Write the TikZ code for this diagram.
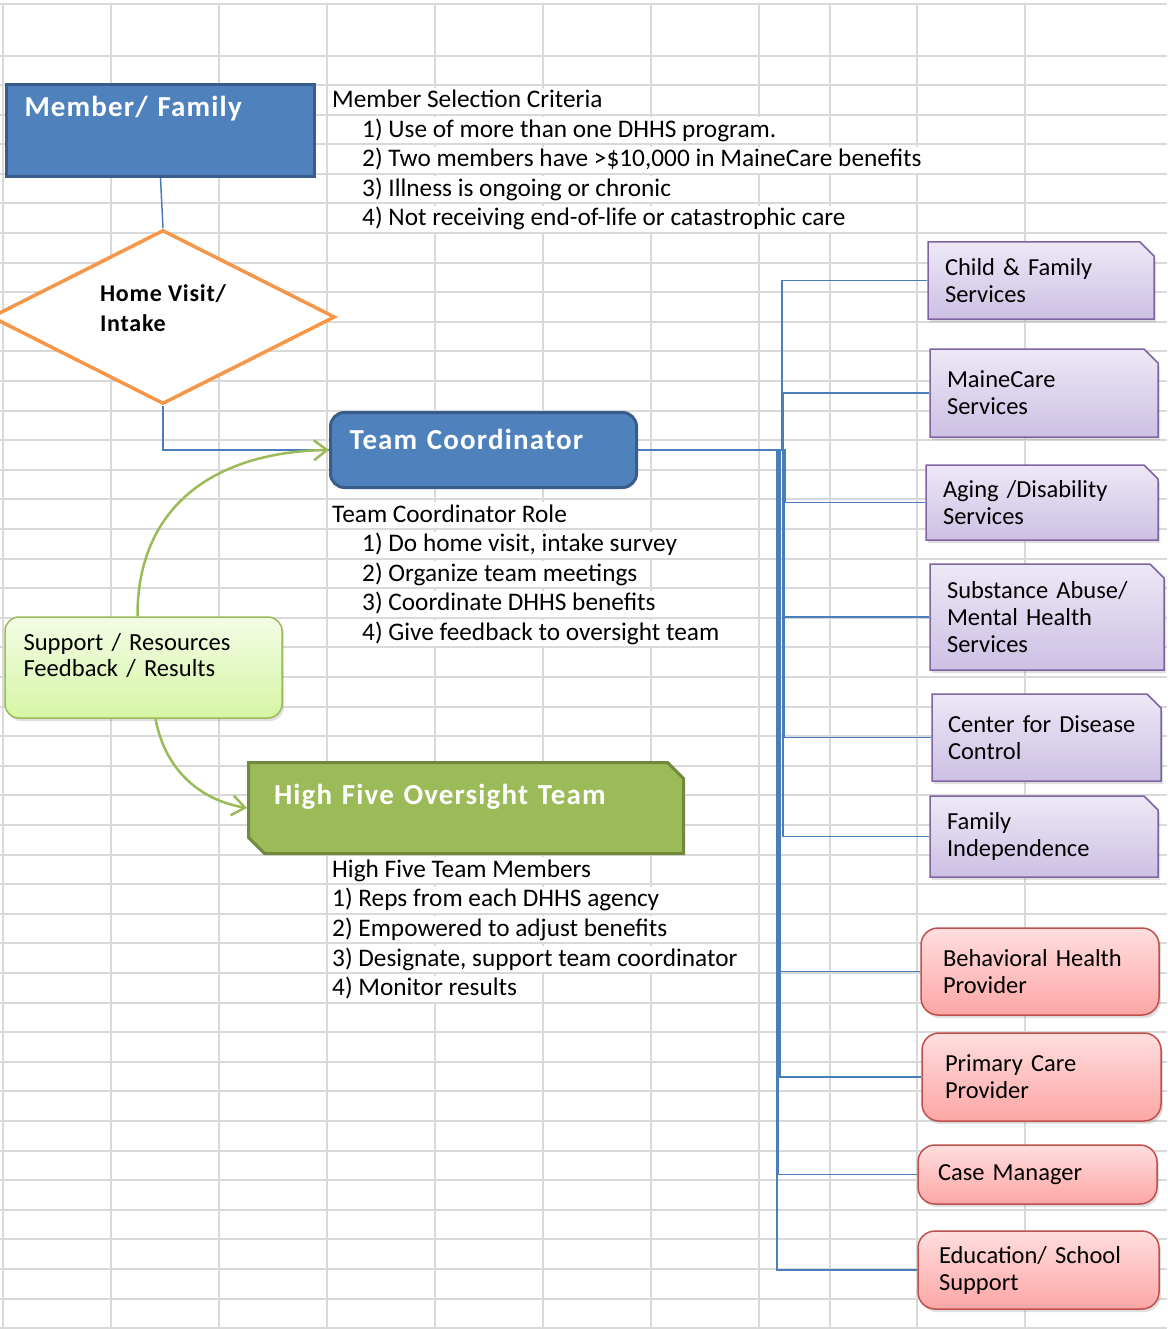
\documentclass[tikz,border=0pt]{standalone}
\usepackage{fontspec}
\setmainfont{Carlito}
\usepackage{tikz}
\usetikzlibrary{shapes,arrows.meta,shadows}
\definecolor{gridgray}{HTML}{D9D9D9}
\definecolor{offblue}{HTML}{4F81BD}
\definecolor{offbluedark}{HTML}{385D8A}
\definecolor{linkblue}{HTML}{4A7EBB}
\definecolor{offorange}{HTML}{F79646}
\definecolor{offgreen}{HTML}{9BBB59}
\definecolor{offgreendark}{HTML}{71893F}
\definecolor{offpurple}{HTML}{8064A2}
\definecolor{purpletop}{RGB}{237,232,246}
\definecolor{purplebot}{RGB}{204,192,228}
\definecolor{offred}{HTML}{C0504D}
\definecolor{redtop}{RGB}{255,222,222}
\definecolor{redbot}{RGB}{252,166,165}
\definecolor{limetop}{RGB}{243,252,230}
\definecolor{limebot}{RGB}{214,246,164}
\newcommand{\cellfont}{\fontsize{25.3}{27}\selectfont}
\newcommand{\tagfont}{\fontsize{24.5}{27}\selectfont}
\newcommand{\headfont}{\fontsize{29}{32}\selectfont\bfseries\addfontfeature{LetterSpace=4}}
\tikzset{
	gridline/.style={draw=gridgray, line width=2pt},
	celltext/.style={fill=white, anchor=base west, inner xsep=2pt, inner ysep=0pt,
		text height=20pt, text depth=6pt, font=\cellfont},
	headbox/.style={line width=3pt, text=white, font=\headfont, align=left, inner sep=0pt},
	agency/.style={chamfered rectangle, chamfered rectangle corners=north east,
		chamfered rectangle sep=7pt, draw=offpurple, line width=1.5pt,
		top color=purpletop, bottom color=purplebot, align=left, inner sep=0pt, font=\tagfont,
		drop shadow={shadow xshift=2pt, shadow yshift=-3pt, opacity=0.25}},
	provider/.style={rectangle, rounded corners=17pt, draw=offred, line width=1.5pt,
		top color=redtop, bottom color=redbot, align=left, inner sep=0pt, font=\tagfont,
		drop shadow={shadow xshift=2pt, shadow yshift=-3pt, opacity=0.25}},
	link/.style={draw=linkblue, line width=1.5pt},
	feedback/.style={draw=offgreen, line width=2.5pt, -{Straight Barb[length=13pt,width=20pt]}},
}

\begin{document}
\begin{tikzpicture}[x=1pt,y=-1pt]
	\tikzstyle{every node}=[font=\cellfont]
	\useasboundingbox (0,0) rectangle (1167,1329);
	\fill[white] (0,0) rectangle (1167,1329);
	
	% sheet grid
	\foreach \gx in {3,111,219,327,435,543,651,759,830,917,1025}
	\draw[gridline] (\gx,4) -- (\gx,1329);
	\draw[gridline] (0,4) -- (1167,4);
	\draw[gridline] (0,56) -- (1167,56);
	\foreach \k in {0,...,42}
	\draw[gridline] (0,{85+29.6*\k}) -- (1167,{85+29.6*\k});
	
	% cell texts
	\node[celltext] (crit) at (330,107.6) {Member Selection Criteria};
	\node[celltext] (crit1) at (360,137.2) {1) Use of more than one DHHS program.};
	\node[celltext] (crit2) at (360,166.8) {2) Two members have >\$10,000 in MaineCare benefits};
	\node[celltext] (crit3) at (360,196.4) {3) Illness is ongoing or chronic};
	\node[celltext] (crit4) at (360,226) {4) Not receiving end-of-life or catastrophic care};
	
	\node[celltext] (role) at (330,522) {Team Coordinator Role};
	\node[celltext] (role1) at (360,551.6) {1) Do home visit, intake survey};
	\node[celltext] (role2) at (360,581.2) {2) Organize team meetings};
	\node[celltext] (role3) at (360,610.8) {3) Coordinate DHHS benefits};
	\node[celltext] (role4) at (360,640.4) {4) Give feedback to oversight team};
	
	\node[celltext] (hft) at (330,877.2) {High Five Team Members};
	\node[celltext] (hft1) at (330,906.8) {1) Reps from each DHHS agency};
	\node[celltext] (hft2) at (330,936.4) {2) Empowered to adjust benefits};
	\node[celltext] (hft3) at (330,966) {3) Designate, support team coordinator};
	\node[celltext] (hft4) at (330,995.6) {4) Monitor results};
	
	% main flow
	\node[headbox, rectangle, draw=offbluedark, fill=offblue, minimum width=308pt, minimum height=92pt,
		text width=272pt, text height=20pt, text depth=47pt] (member) at (160.5,130.5) {Member/ Family};
	\node[diamond, aspect=2, draw=offorange, line width=3.5pt, fill=white, minimum width=344pt, minimum height=174pt,
		inner sep=0pt, align=left, text depth=18pt,
		font=\fontsize{24}{30}\selectfont\bfseries\addfontfeature{LetterSpace=3}] (visit) at (163,317) {Home Visit/\\Intake};
	\node[headbox, rectangle, rounded corners=14pt, draw=offbluedark, fill=offblue, minimum width=306pt,
		minimum height=75pt, text width=268pt, text height=20pt, text depth=22pt] (tc) at (483.5,450) {Team Coordinator};
	\node[headbox, chamfered rectangle, chamfered rectangle corners={north east,south west},
		chamfered rectangle sep=8pt, draw=offgreendark, fill=offgreen, minimum width=435pt, minimum height=91pt,
		text width=384pt, text height=20pt, text depth=28pt] (hf) at (466,808) {High Five Oversight Team};
	\node[rectangle, rounded corners=14pt, draw=offgreen, line width=1.5pt, top color=limetop, bottom color=limebot,
		minimum width=277pt, minimum height=101pt, text width=240pt, align=left, inner sep=0pt,
		drop shadow={shadow xshift=2pt, shadow yshift=-3pt, opacity=0.25},
		font=\fontsize{24.6}{26}\selectfont] (support) at (143.5,667.5) {Support / Resources\\Feedback / Results\\\mbox{}};
	
	\draw[link] (member.south) -- (visit.north);
	\draw[link] (visit.south) |- (tc.west);
	\draw[feedback] ([xshift=-6pt]support.north) .. controls (137,510) and (210,452) .. (tc.west);
	\draw[feedback] ([xshift=12pt]support.south) .. controls (165,770) and (200,800) .. (hf.west);
	
	% agencies and providers
	\node[agency, minimum width=226pt, minimum height=77pt, text width=192pt] (child) at (1041,280.5) {Child \& Family\\Services};
	\node[agency, minimum width=228pt, minimum height=88pt, text width=194pt] (maine) at (1044,393) {MaineCare\\Services};
	\node[agency, minimum width=232pt, minimum height=75pt, text width=198pt] (aging) at (1042,502.5) {Aging /Disability\\Services};
	\node[agency, minimum width=234pt, minimum height=106pt, text width=200pt] (subst) at (1047,617) {Substance Abuse/\\Mental Health\\Services};
	\node[agency, minimum width=229pt, minimum height=87pt, text width=197pt] (cdc) at (1046.5,737.5) {Center for Disease\\Control};
	\node[agency, minimum width=228pt, minimum height=81pt, text width=194pt] (famind) at (1044,836.5) {Family\\Independence};
	\node[provider, minimum width=238pt, minimum height=87pt, text width=194pt] (behav) at (1040,971.5) {Behavioral Health\\Provider};
	\node[provider, minimum width=239pt, minimum height=88pt, text width=193pt] (prim) at (1041.5,1077) {Primary Care\\Provider};
	\node[provider, minimum width=239pt, minimum height=59pt, text width=199pt] (casem) at (1037.5,1174.5) {Case Manager};
	\node[provider, minimum width=241pt, minimum height=78pt, text width=199pt] (educ) at (1038.5,1270) {Education/ School\\Support};
	
	\draw[link] (tc.east) -- ++(144,0) |- (child.west);
	\draw[link] (tc.east) -- ++(145,0) |- (maine.west);
	\draw[link] (tc.east) -- ++(147,0) |- (aging.west);
	\draw[link] (tc.east) -- ++(146,0) |- (subst.west);
	\draw[link] (tc.east) -- ++(146,0) |- (cdc.west);
	\draw[link] (tc.east) -- ++(145,0) |- (famind.west);
	\draw[link] (tc.east) -- ++(142,0) |- (behav.west);
	\draw[link] (tc.east) -- ++(142,0) |- (prim.west);
	\draw[link] (tc.east) -- ++(140,0) |- (casem.west);
	\draw[link] (tc.east) -- ++(139,0) |- (educ.west);
\end{tikzpicture}
\end{document}
